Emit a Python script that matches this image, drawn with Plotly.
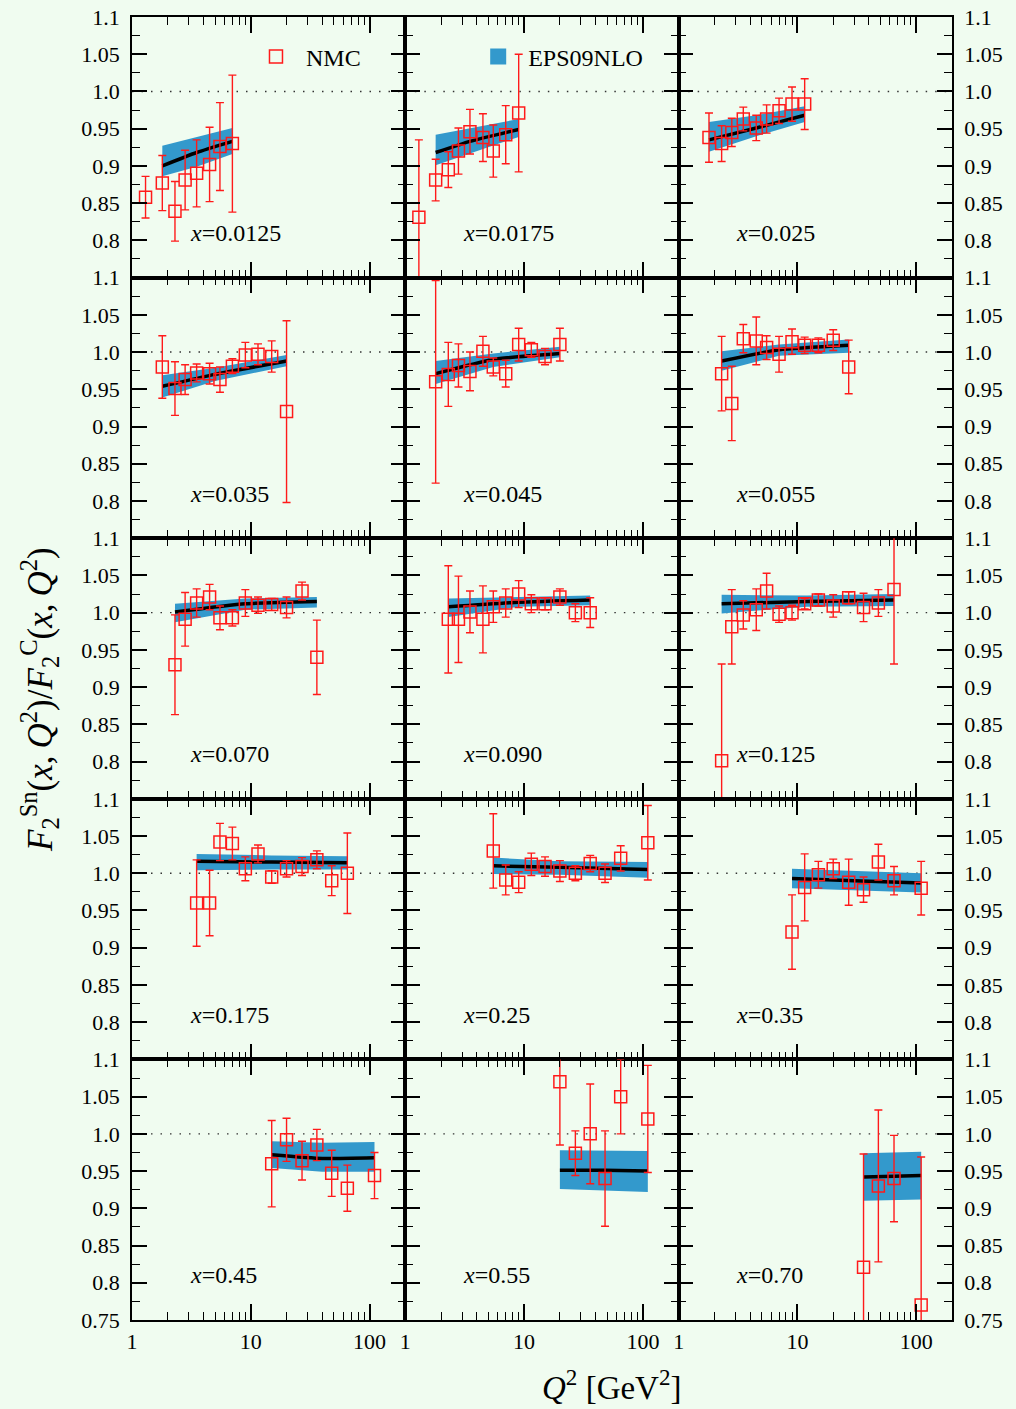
import math
import plotly.graph_objects as go

BG = "#f0fcf0"
FONT = "Liberation Serif"
RED = "#ff1a1a"
BAND = "#3399cc"

# Bjorken-x bins, one panel each (row-major, 5 rows x 3 columns)
x_bins = ["0.0125", "0.0175", "0.025", "0.035", "0.045", "0.055",
          "0.070", "0.090", "0.125", "0.175", "0.25", "0.35",
          "0.45", "0.55", "0.70"]

# NMC Sn/C measurements: Q^2 [GeV^2], ratio, total uncertainty
nmc_q2 = [
    [1.3, 1.8, 2.3, 2.8, 3.5, 4.5, 5.5, 7.0],
    [1.3, 1.8, 2.3, 2.8, 3.5, 4.5, 5.5, 7.0, 9.0],
    [1.8, 2.3, 2.8, 3.5, 4.5, 5.5, 7.0, 9.0, 11.5],
    [1.8, 2.3, 2.8, 3.5, 4.5, 5.5, 7.0, 9.0, 11.5, 15, 20],
    [1.8, 2.3, 2.8, 3.5, 4.5, 5.5, 7.0, 9.0, 11.5, 15, 20],
    [2.3, 2.8, 3.5, 4.5, 5.5, 7.0, 9.0, 11.5, 15, 20, 27],
    [2.3, 2.8, 3.5, 4.5, 5.5, 7.0, 9.0, 11.5, 15, 20, 27, 36],
    [2.3, 2.8, 3.5, 4.5, 5.5, 7.0, 9.0, 11.5, 15, 20, 27, 36],
    [2.3, 2.8, 3.5, 4.5, 5.5, 7.0, 9.0, 11.5, 15, 20, 27, 36, 48, 65],
    [3.5, 4.5, 5.5, 7.0, 9.0, 11.5, 15, 20, 27, 36, 48, 65],
    [5.5, 7.0, 9.0, 11.5, 15, 20, 27, 36, 48, 65, 110],
    [9.0, 11.5, 15, 20, 27, 36, 48, 65, 110],
    [15, 20, 27, 36, 48, 65, 110],
    [20, 27, 36, 48, 65, 110],
    [36, 48, 65, 110],
]
nmc_ratio = [
    [0.858, 0.877, 0.839, 0.881, 0.890, 0.902, 0.926, 0.930],
    [0.831, 0.881, 0.895, 0.920, 0.946, 0.938, 0.920, 0.942, 0.971],
    [0.938, 0.930, 0.945, 0.963, 0.951, 0.963, 0.974, 0.983, 0.983],
    [0.980, 0.951, 0.963, 0.972, 0.971, 0.963, 0.981, 0.996, 0.997, 0.994, 0.920],
    [0.960, 0.970, 0.982, 0.974, 1.001, 0.980, 0.971, 1.010, 1.003, 0.994, 1.010],
    [0.971, 0.931, 1.018, 1.015, 1.006, 0.997, 1.014, 1.009, 1.009, 1.016, 0.980],
    [0.930, 0.991, 1.013, 1.021, 0.993, 0.993, 1.013, 1.010, 1.011, 1.007, 1.029, 0.940],
    [0.991, 0.991, 1.001, 0.991, 1.008, 1.013, 1.025, 1.012, 1.012, 1.021, 1.000, 1.000],
    [0.801, 0.981, 0.997, 1.004, 1.029, 0.998, 1.000, 1.012, 1.017, 1.009, 1.020, 1.007, 1.013, 1.031],
    [0.960, 0.960, 1.042, 1.040, 1.006, 1.026, 0.995, 1.006, 1.009, 1.018, 0.990, 1.000],
    [1.030, 0.991, 0.988, 1.012, 1.009, 1.003, 1.000, 1.013, 1.000, 1.020, 1.041],
    [0.921, 0.981, 0.998, 1.006, 0.988, 0.978, 1.015, 0.990, 0.980],
    [0.960, 0.992, 0.964, 0.985, 0.947, 0.927, 0.944],
    [1.070, 0.974, 1.000, 0.940, 1.050, 1.020],
    [0.821, 0.930, 0.940, 0.770],
]
nmc_err = [
    [0.028, 0.037, 0.040, 0.040, 0.045, 0.050, 0.059, 0.092],
    [0.104, 0.028, 0.024, 0.031, 0.030, 0.032, 0.035, 0.039, 0.079],
    [0.033, 0.024, 0.019, 0.016, 0.017, 0.019, 0.017, 0.023, 0.034],
    [0.042, 0.036, 0.020, 0.012, 0.014, 0.017, 0.010, 0.017, 0.014, 0.021, 0.122],
    [0.136, 0.043, 0.029, 0.026, 0.020, 0.012, 0.018, 0.022, 0.010, 0.011, 0.022],
    [0.050, 0.050, 0.019, 0.032, 0.016, 0.024, 0.017, 0.011, 0.010, 0.014, 0.036],
    [0.067, 0.036, 0.019, 0.017, 0.016, 0.011, 0.018, 0.011, 0.008, 0.014, 0.012, 0.050],
    [0.072, 0.058, 0.028, 0.045, 0.021, 0.019, 0.018, 0.012, 0.008, 0.011, 0.012, 0.020],
    [0.130, 0.050, 0.019, 0.028, 0.024, 0.011, 0.010, 0.007, 0.008, 0.015, 0.008, 0.019, 0.018, 0.100],
    [0.058, 0.044, 0.025, 0.022, 0.016, 0.012, 0.0085, 0.011, 0.012, 0.012, 0.020, 0.054],
    [0.050, 0.020, 0.014, 0.015, 0.013, 0.014, 0.010, 0.011, 0.0125, 0.017, 0.050],
    [0.050, 0.045, 0.018, 0.013, 0.031, 0.017, 0.024, 0.019, 0.036],
    [0.058, 0.029, 0.026, 0.021, 0.031, 0.031, 0.031],
    [0.085, 0.030, 0.067, 0.064, 0.050, 0.072],
    [0.152, 0.102, 0.058, 0.199],
]

# EPS09 NLO prediction: central curve and uncertainty band
eps_q2 = [
    [1.8, 3.5, 7.0], [1.8, 3.5, 9.0], [1.8, 4.5, 11.5],
    [1.8, 5.0, 20], [1.8, 5.5, 20], [2.3, 7.0, 27],
    [2.3, 9.0, 36], [2.3, 9.0, 36], [2.3, 12, 65],
    [3.5, 15, 65], [5.5, 20, 110], [9.0, 30, 110],
    [15, 40, 110], [20, 48, 110], [36, 65, 110],
]
eps_central = [
    [0.900, 0.918, 0.933], [0.918, 0.933, 0.949], [0.935, 0.951, 0.968],
    [0.954, 0.970, 0.988], [0.971, 0.990, 0.998], [0.988, 1.003, 1.009],
    [1.001, 1.012, 1.015], [1.008, 1.014, 1.017], [1.012, 1.015, 1.017],
    [1.016, 1.015, 1.014], [1.010, 1.008, 1.005], [0.993, 0.990, 0.987],
    [0.972, 0.967, 0.968], [0.951, 0.951, 0.950], [0.942, 0.943, 0.944],
]
eps_low = [
    [0.886, 0.899, 0.916], [0.901, 0.917, 0.939], [0.919, 0.940, 0.959],
    [0.939, 0.961, 0.981], [0.957, 0.980, 0.993], [0.975, 0.995, 0.999],
    [0.987, 1.004, 1.007], [0.994, 1.008, 1.010], [0.999, 1.008, 1.009],
    [1.004, 1.005, 1.005], [0.999, 0.998, 0.994], [0.980, 0.977, 0.974],
    [0.954, 0.949, 0.949], [0.926, 0.924, 0.922], [0.910, 0.911, 0.912],
]
eps_high = [
    [0.927, 0.939, 0.951], [0.942, 0.951, 0.963], [0.959, 0.968, 0.980],
    [0.969, 0.979, 0.996], [0.988, 0.998, 1.007], [1.001, 1.010, 1.017],
    [1.012, 1.019, 1.021], [1.019, 1.021, 1.023], [1.024, 1.023, 1.025],
    [1.026, 1.024, 1.023], [1.021, 1.016, 1.015], [1.006, 1.003, 1.000],
    [0.990, 0.988, 0.989], [0.978, 0.977, 0.977], [0.974, 0.975, 0.976],
]

y_ticks = [0.75, 0.8, 0.85, 0.9, 0.95, 1.0, 1.05, 1.1]
y_tick_text = ["0.75", "0.8", "0.85", "0.9", "0.95", "1.0", "1.05", "1.1"]
y_minor = [0.775, 0.825, 0.875, 0.925, 0.975, 1.025, 1.075]
x_ticks = [1, 10, 100]
x_tick_text = ["1", "10", "100"]
x_minor = [2, 3, 4, 5, 6, 7, 8, 9, 20, 30, 40, 50, 60, 70, 80, 90, 200]

N_ROWS, N_COLS = 5, 3
Q2_MAX = 200

fig = go.Figure()
tick_font = dict(family=FONT, size=22, color="black")

for i, xb in enumerate(x_bins):
    n = i + 1
    row, col = divmod(i, N_COLS)
    xa = "x" if n == 1 else f"x{n}"
    ya = "y" if n == 1 else f"y{n}"

    # uncertainty band
    fig.add_trace(go.Scatter(
        x=eps_q2[i] + eps_q2[i][::-1],
        y=eps_high[i] + eps_low[i][::-1],
        fill="toself", fillcolor=BAND, mode="lines",
        line=dict(width=0),
        hoverinfo="skip", showlegend=False, xaxis=xa, yaxis=ya))
    # central prediction
    fig.add_trace(go.Scatter(
        x=eps_q2[i], y=eps_central[i], mode="lines",
        line=dict(color="black", width=3.5, shape="spline", smoothing=0.5),
        showlegend=False, xaxis=xa, yaxis=ya))
    # data
    fig.add_trace(go.Scatter(
        x=nmc_q2[i], y=nmc_ratio[i], mode="markers",
        marker=dict(symbol="square-open", size=12, color=RED,
                    line=dict(color=RED, width=1.5)),
        error_y=dict(type="data", array=nmc_err[i], color=RED,
                     thickness=1.4, width=4),
        showlegend=False, xaxis=xa, yaxis=ya))

    xkey = "xaxis" if n == 1 else f"xaxis{n}"
    ykey = "yaxis" if n == 1 else f"yaxis{n}"
    fig.layout[xkey] = dict(
        type="log", range=[0, math.log10(Q2_MAX)],
        domain=[col / N_COLS, (col + 1) / N_COLS], anchor=ya,
        tickvals=x_ticks, ticktext=x_tick_text,
        showticklabels=(row == N_ROWS - 1),
        ticks="inside", ticklen=16, tickwidth=1.5, tickcolor="black",
        minor=dict(tickvals=x_minor, ticks="inside", ticklen=8,
                   tickwidth=1.2, tickcolor="black"),
        showline=True, linecolor="black", linewidth=1.6, mirror="allticks",
        showgrid=False, zeroline=False, tickfont=tick_font,
        ticklabelstandoff=1, automargin=False)
    text = y_tick_text if row == N_ROWS - 1 else [""] + y_tick_text[1:]
    fig.layout[ykey] = dict(
        range=[0.75, 1.1],
        domain=[1 - (row + 1) / N_ROWS, 1 - row / N_ROWS], anchor=xa,
        side="right" if col == N_COLS - 1 else "left",
        tickvals=y_ticks, ticktext=text,
        showticklabels=(col != 1),
        ticks="inside", ticklen=15, tickwidth=1.5, tickcolor="black",
        minor=dict(tickvals=y_minor, ticks="inside", ticklen=8,
                   tickwidth=1.2, tickcolor="black"),
        showline=True, linecolor="black", linewidth=1.6, mirror="allticks",
        showgrid=False, zeroline=False, tickfont=tick_font,
        ticklabelstandoff=6, automargin=False)

    # unity reference line
    fig.add_shape(type="line", xref=f"{xa} domain", yref=ya,
                  x0=0, x1=1, y0=1.0, y1=1.0,
                  line=dict(color="#333333", width=1.4, dash="1.5px,8px"),
                  layer="below")
    # bin label
    fig.add_annotation(xref=xa, yref=ya, x=0.47, y=0.81,
                       text=f"<i>x</i>={xb}", showarrow=False,
                       xanchor="left", yanchor="middle",
                       font=dict(family=FONT, size=24, color="black"))

# legend entries
fig.add_trace(go.Scatter(
    x=[None], y=[None], mode="markers", name="NMC",
    marker=dict(symbol="square-open", size=13, color=RED,
                line=dict(color=RED, width=1.5)),
    xaxis="x", yaxis="y", legend="legend"))
fig.add_trace(go.Scatter(
    x=[None], y=[None], mode="markers", name="EPS09NLO",
    marker=dict(symbol="square", size=17, color=BAND),
    xaxis="x", yaxis="y", legend="legend2"))

legend_style = dict(bgcolor="rgba(0,0,0,0)", borderwidth=0, itemwidth=50,
                    font=dict(family=FONT, size=24, color="black"),
                    xanchor="left", yanchor="middle")
fig.update_layout(
    legend=dict(x=0.139, y=0.9693, **legend_style),
    legend2=dict(x=0.41, y=0.9693, **legend_style),
)

# axis titles
fig.add_annotation(
    xref="paper", yref="paper", x=-0.112, y=0.476, textangle=-90,
    text=("<i>F</i><sub>2</sub><sup>Sn</sup>(<i>x</i>,&#8201;<i>Q</i><sup>2</sup>)/"
          "<i>F</i><sub>2</sub><sup>C</sup>(<i>x</i>,&#8201;<i>Q</i><sup>2</sup>)"),
    showarrow=False, xanchor="center", yanchor="middle",
    font=dict(family=FONT, size=35, color="black"))
fig.add_annotation(
    xref="paper", yref="paper", x=0.585, y=-0.05,
    text="<i>Q</i><sup>2</sup> [GeV<sup>2</sup>]",
    showarrow=False, xanchor="center", yanchor="middle",
    font=dict(family=FONT, size=33, color="black"))

fig.update_layout(
    width=1016, height=1409, autosize=False,
    margin=dict(l=132, r=64, t=17, b=89, autoexpand=False),
    paper_bgcolor=BG, plot_bgcolor=BG,
    font=dict(family=FONT, color="black"),
)

fig.write_html("out.html")
